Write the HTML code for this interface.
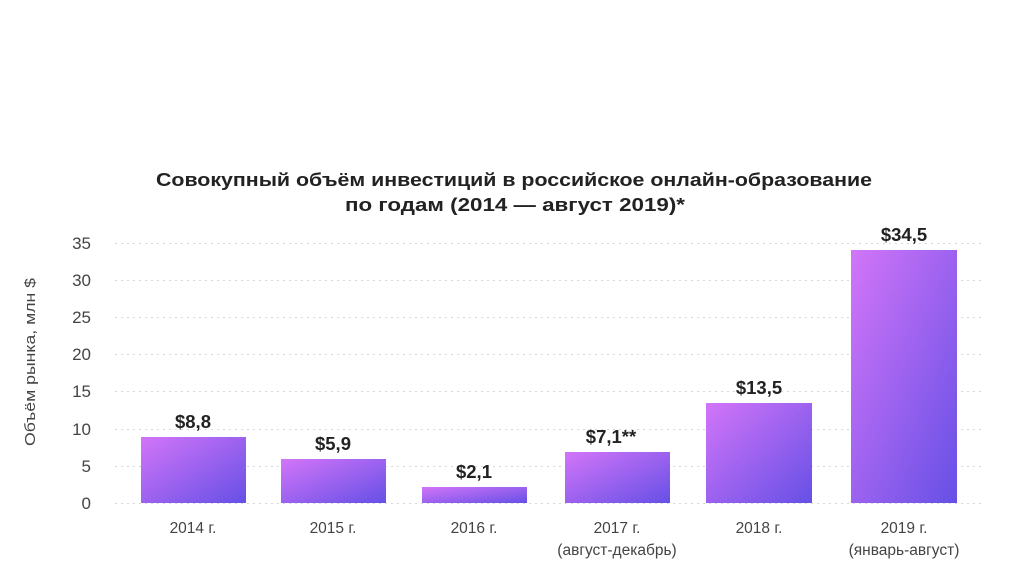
<!DOCTYPE html>
<html><head><meta charset="utf-8"><style>
html,body{margin:0;padding:0;background:#fff;}
svg{display:block;font-family:"Liberation Sans",sans-serif;}
</style></head><body>
<svg width="1024" height="574" viewBox="0 0 1024 574" xmlns="http://www.w3.org/2000/svg">
<defs>
<linearGradient id="g" x1="0" y1="0" x2="1" y2="1">
<stop offset="0" stop-color="#d275f8"/>
<stop offset="1" stop-color="#6650e6"/>
</linearGradient>
</defs>
<rect width="1024" height="574" fill="#fff"/>
<text x="156" y="186" textLength="716" lengthAdjust="spacingAndGlyphs" font-size="18.5" font-weight="bold" fill="#222">Совокупный объём инвестиций в российское онлайн-образование</text>
<text x="345" y="211" textLength="340" lengthAdjust="spacingAndGlyphs" font-size="18.5" font-weight="bold" fill="#222">по годам (2014 — август 2019)*</text>
<g stroke="#d8d8d8" stroke-width="1" stroke-dasharray="2,4">
<line x1="115" x2="985" y1="243.5" y2="243.5"/>
<line x1="115" x2="985" y1="280.5" y2="280.5"/>
<line x1="115" x2="985" y1="317.5" y2="317.5"/>
<line x1="115" x2="985" y1="354.5" y2="354.5"/>
<line x1="115" x2="985" y1="391.5" y2="391.5"/>
<line x1="115" x2="985" y1="429.5" y2="429.5"/>
<line x1="115" x2="985" y1="466.5" y2="466.5"/>
<line x1="115" x2="985" y1="503.5" y2="503.5"/>
</g>
<g font-size="17" fill="#444" text-anchor="end">
<text x="91" y="249">35</text>
<text x="91" y="286">30</text>
<text x="91" y="323">25</text>
<text x="91" y="360">20</text>
<text x="91" y="397">15</text>
<text x="91" y="435">10</text>
<text x="91" y="472">5</text>
<text x="91" y="509">0</text>
</g>
<text transform="translate(35,362) rotate(-90)" text-anchor="middle" textLength="168" lengthAdjust="spacingAndGlyphs" font-size="15" fill="#444">Объём рынка, млн $</text>
<g fill="url(#g)">
<rect x="141" y="437" width="105" height="66"/>
<rect x="281" y="459" width="105" height="44"/>
<rect x="422" y="487" width="105" height="16"/>
<rect x="565" y="452" width="105" height="51"/>
<rect x="706" y="403" width="106" height="100"/>
<rect x="851" y="250" width="106" height="253"/>
</g>
<g font-size="18.5" font-weight="bold" fill="#222" text-anchor="middle">
<text x="193" y="428">$8,8</text>
<text x="333" y="450">$5,9</text>
<text x="474" y="478">$2,1</text>
<text x="611" y="443">$7,1**</text>
<text x="759" y="394">$13,5</text>
<text x="904" y="241">$34,5</text>
</g>
<g font-size="15.5" fill="#444" text-anchor="middle">
<text x="193" y="533">2014 г.</text>
<text x="333" y="533">2015 г.</text>
<text x="474" y="533">2016 г.</text>
<text x="617" y="533">2017 г.</text>
<text x="617" y="555">(август-декабрь)</text>
<text x="759" y="533">2018 г.</text>
<text x="904" y="533">2019 г.</text>
<text x="904" y="555">(январь-август)</text>
</g>
</svg>
</body></html>
